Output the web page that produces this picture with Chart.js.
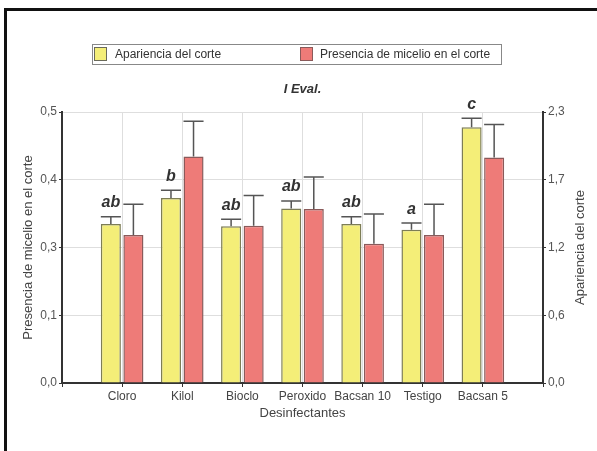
<!DOCTYPE html>
<html>
<head>
<meta charset="utf-8">
<script src="https://cdn.jsdelivr.net/npm/chart.js@4.4.1/dist/chart.umd.min.js"></script>
<style>
  html, body { margin: 0; padding: 0; background: #fff; }
  #wrap { position: relative; width: 597px; height: 451px; overflow: hidden; background: #fff; font-family: "Liberation Sans", Arial, sans-serif; }
  #frame { position: absolute; left: 4px; top: 8px; width: 700px; height: 600px; border-top: 3px solid #111; border-left: 3px solid #111; box-sizing: border-box; pointer-events: none; }
  #legend { position: absolute; left: 92px; top: 44px; width: 410px; height: 21px; border: 1px solid #888; box-sizing: border-box; font-size: 12px; color: #333; }
  .sw { position: absolute; top: 2px; width: 13px; height: 14px; box-sizing: border-box; border: 1px solid #6a6a5a; }
  .lt { position: absolute; top: 2px; white-space: nowrap; }
  #title { position: absolute; left: 0; width: 605px; top: 81px; text-align: center; font-size: 13px; font-weight: bold; font-style: italic; color: #333; }
  canvas { position: absolute; left: 0; top: 0; }
</style>
</head>
<body>
<div id="wrap">
  <canvas id="c" width="597" height="451"></canvas>
  <div id="frame"></div>
  <div id="legend">
    <div class="sw" style="left:1px;background:#f4ee78;"></div>
    <div class="lt" style="left:22px;">Apariencia del corte</div>
    <div class="sw" style="left:207px;background:#ee7b78;border-color:#8a5a5a;"></div>
    <div class="lt" style="left:227px;">Presencia de micelio en el corte</div>
  </div>
  <div id="title">I Eval.</div>
</div>
<script>
// ---- data ----
const categories = ['Cloro', 'Kilol', 'Bioclo', 'Peroxido', 'Bacsan 10', 'Testigo', 'Bacsan 5'];
const apariencia = [1.35, 1.57, 1.33, 1.48, 1.35, 1.30, 2.17];          // right axis
const aparienciaErr = [0.062, 0.065, 0.059, 0.065, 0.062, 0.057, 0.076];
const micelio = [0.273, 0.418, 0.290, 0.321, 0.257, 0.273, 0.416];      // left axis
const micelioErr = [0.057, 0.065, 0.056, 0.059, 0.055, 0.057, 0.061];
const letters = ['ab', 'b', 'ab', 'ab', 'ab', 'a', 'c'];
const leftTicks = [0, 0.125, 0.25, 0.375, 0.5];
const leftTickLabels = ['0,0', '0,1', '0,3', '0,4', '0,5'];
const rightTicks = [0, 0.575, 1.15, 1.725, 2.3];
const rightTickLabels = ['0,0', '0,6', '1,2', '1,7', '2,3'];

// padded category axis (empty slot at each end)
const labels = [''].concat(categories, ['']);
const pad = arr => [null].concat(arr, [null]);
const errs = [pad(aparienciaErr), pad(micelioErr)];
const FONT = '"Liberation Sans", Arial, sans-serif';

const overlay = {
  id: 'overlay',
  afterDatasetsDraw(chart) {
    const ctx = chart.ctx;
    ctx.save();
    // error bars
    chart.data.datasets.forEach((ds, di) => {
      const meta = chart.getDatasetMeta(di);
      const ys = chart.scales[ds.yAxisID];
      meta.data.forEach((el, i) => {
        const v = ds.data[i];
        if (v == null) return;
        const top = ys.getPixelForValue(v + errs[di][i]);
        const w = el.width;
        ctx.strokeStyle = '#555';
        ctx.lineWidth = 1.5;
        ctx.beginPath();
        ctx.moveTo(el.x, el.y);
        ctx.lineTo(el.x, top);
        ctx.moveTo(el.x - w / 2, top);
        ctx.lineTo(el.x + w / 2, top);
        ctx.stroke();
      });
    });
    // significance letters over yellow bars
    const meta0 = chart.getDatasetMeta(0);
    const ys0 = chart.scales.yRight;
    ctx.fillStyle = '#333';
    ctx.font = 'italic bold 16px ' + FONT;
    ctx.textAlign = 'center';
    ctx.textBaseline = 'bottom';
    categories.forEach((c, k) => {
      const el = meta0.data[k + 1];
      const top = ys0.getPixelForValue(apariencia[k] + aparienciaErr[k]);
      ctx.fillText(letters[k], el.x, top - 6);
    });
    // axis titles
    const ca = chart.chartArea;
    const midY = (ca.top + ca.bottom) / 2;
    ctx.font = '13px ' + FONT;
    ctx.fillStyle = '#444';
    ctx.textBaseline = 'middle';
    [[28, 'Presencia de micelio en el corte'], [580, 'Apariencia del corte']].forEach(([x, t]) => {
      ctx.save();
      ctx.translate(x, midY);
      ctx.rotate(-Math.PI / 2);
      ctx.fillText(t, 0, 0);
      ctx.restore();
    });
    ctx.fillText('Desinfectantes', (ca.left + ca.right) / 2, 413);
    ctx.restore();
  }
};

new Chart(document.getElementById('c'), {
  type: 'bar',
  data: {
    labels: labels,
    datasets: [
      { label: 'Apariencia del corte', data: pad(apariencia), yAxisID: 'yRight',
        backgroundColor: '#f4ee78', borderColor: '#7d7d55', borderWidth: 1.5,
        categoryPercentage: 0.75, barPercentage: 0.89 },
      { label: 'Presencia de micelio en el corte', data: pad(micelio), yAxisID: 'yLeft',
        backgroundColor: '#ee7b78', borderColor: '#8a5a5a', borderWidth: 1.5,
        categoryPercentage: 0.75, barPercentage: 0.89 }
    ]
  },
  options: {
    responsive: false,
    animation: false,
    layout: { padding: { top: 112, bottom: 0, left: 0, right: 0 } },
    plugins: { legend: { display: false }, title: { display: false }, tooltip: { enabled: false } },
    scales: {
      x: {
        offset: false,
        grid: { offset: false, color: '#dedede', drawTicks: true, tickLength: 4, tickColor: '#333' },
        border: { color: '#333', width: 2 },
        ticks: { color: '#444', font: { size: 12, family: FONT }, padding: 2, maxRotation: 0, autoSkip: false },
        afterFit(s) { s.height = 68; }
      },
      yLeft: {
        position: 'left', min: 0, max: 0.5,
        afterBuildTicks(s) { s.ticks = leftTicks.map(v => ({ value: v })); },
        ticks: { callback: (v, i) => leftTickLabels[i], color: '#555', font: { size: 12, family: FONT }, padding: 2 },
        grid: { color: '#dedede', tickLength: 3, tickColor: '#333' },
        border: { color: '#333', width: 2 },
        afterFit(s) { s.width = 62; }
      },
      yRight: {
        position: 'right', min: 0, max: 2.3,
        afterBuildTicks(s) { s.ticks = rightTicks.map(v => ({ value: v })); },
        ticks: { callback: (v, i) => rightTickLabels[i], color: '#555', font: { size: 12, family: FONT }, padding: 2 },
        grid: { drawOnChartArea: false, tickLength: 3, tickColor: '#333' },
        border: { color: '#333', width: 2 },
        afterFit(s) { s.width = 54; }
      }
    }
  },
  plugins: [overlay]
});
</script>
</body>
</html>
